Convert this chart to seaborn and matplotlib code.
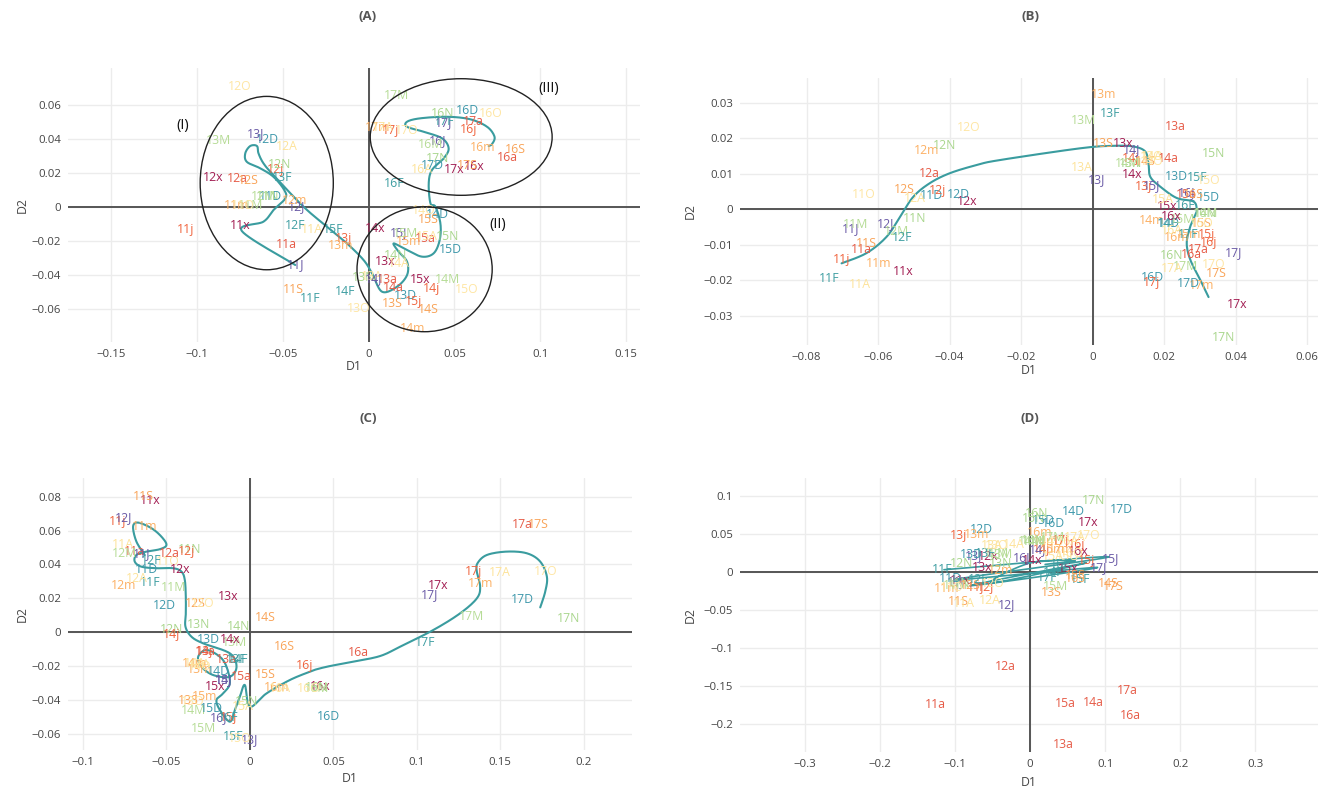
import numpy as np
import matplotlib
matplotlib.use("Agg")
import matplotlib.pyplot as plt
from matplotlib.patches import Ellipse
from matplotlib.ticker import FixedLocator, FuncFormatter
import seaborn as sns

sns.set_theme(style="white")
plt.rcParams['font.family'] = ['Open Sans', 'DejaVu Sans']

# ---- labels: year (11..17) x period code ----
years = ['11', '12', '13', '14', '15', '16', '17']
codes = ['x', 'a', 'j', 'J', 'S', 'm', 'M', 'N', 'D', 'F', 'O', 'A']
labels = [y + c for y in years for c in codes]

code_colors = {
    'x': '#a21d52', 'a': '#e65b47', 'j': '#f0653f', 'J': '#6a5aa6',
    'S': '#f9a459', 'm': '#fcb064', 'M': '#b6dc96', 'N': '#a9d68d',
    'D': '#3e98ab', 'F': '#3f9ea2', 'O': '#fee6a4', 'A': '#fde39a',
}

# ---- panel A coordinates (order follows `labels`) ----
a_x = [-0.0748, -0.048, -0.1068, -0.0427, -0.0437, -0.0767, -0.069, -0.059, -0.0573, -0.034, -0.073, -0.033,
       -0.0903, -0.0767, -0.0544, -0.0417, -0.070, -0.0432, -0.061, -0.052, -0.0592, -0.0427, -0.0748, -0.0476,
       0.0097, 0.0107, -0.0146, -0.066, 0.0136, -0.0165, -0.0874, -0.003, 0.0214, -0.0505, -0.0058, 0.002,
       0.0039, 0.0146, 0.0369, 0.0029, 0.035, 0.0253, 0.0457, 0.0156, 0.0399, -0.0136, 0.032, 0.0175,
       0.0301, 0.033, 0.0262, 0.0175, 0.035, 0.0233, 0.0214, 0.0457, 0.0476, -0.0207, 0.0573, 0.034,
       0.0612, 0.0806, 0.0583, 0.0399, 0.0855, 0.0661, 0.036, 0.0428, 0.0573, 0.0146, 0.0709, 0.031,
       0.0495, 0.0612, 0.0126, 0.0437, 0.0573, 0.005, 0.0165, 0.0399, 0.0369, 0.0437, 0.0224, 0.008]
a_y = [-0.0106, -0.0218, -0.0135, -0.0341, -0.0484, 0.0008, 0.0008, 0.006, 0.006, -0.0537, 0.001, -0.0135,
       0.0172, 0.0165, 0.0218, 0.0002, 0.0159, 0.004, 0.006, 0.0253, 0.040, -0.0106, 0.0712, 0.0355,
       -0.0322, -0.0425, -0.0184, 0.0434, -0.0566, -0.0224, 0.0394, -0.0414, -0.0518, 0.0175, -0.0596, -0.041,
       -0.0125, -0.0472, -0.0482, -0.042, -0.060, -0.0714, -0.0429, -0.0288, -0.0041, -0.0498, -0.0018, -0.0335,
       -0.0425, -0.0188, -0.0557, -0.0149, -0.0072, -0.0204, -0.0155, -0.0171, -0.0247, -0.0135, -0.0488, -0.0175,
       0.0241, 0.0292, 0.0457, 0.0394, 0.0341, 0.0351, 0.037, 0.0551, 0.057, 0.0139, 0.0551, 0.0218,
       0.0218, 0.0502, 0.0453, 0.0495, 0.0247, 0.047, 0.0659, 0.0286, 0.0243, 0.0502, 0.0453, 0.047]
a_path_x = [-0.0427, -0.0738, -0.0612, -0.0554, -0.0485, -0.0491, -0.0554, -0.0631, -0.0709, -0.0718,
            -0.0689, -0.065, -0.0641, -0.0612, -0.0554, -0.0379, -0.0242, -0.0126, -0.0029,
            0.002, 0.0078, 0.0165, 0.0224, 0.0224, 0.0175, 0.0146, 0.0224, 0.0311, 0.0379, 0.0414,
            0.0418, 0.0389, 0.036, 0.035, 0.0369, 0.0437, 0.0466, 0.0428, 0.032, 0.0224, 0.0224,
            0.0301, 0.0457, 0.0593, 0.069, 0.0733, 0.0719, 0.0699]
a_path_y = [-0.0341, -0.0141, -0.0086, -0.0018, 0.0051, 0.010, 0.0178, 0.0228, 0.0266, 0.0316,
            0.0359, 0.0359, 0.0316, 0.0257, 0.0188, 0.0002, -0.0116, -0.0214, -0.0312,
            -0.039, -0.0498, -0.0469, -0.040, -0.0322, -0.0263, -0.0214, -0.0253, -0.0292, -0.0272, -0.0194,
            -0.0096, 0.0002, 0.0022, 0.0139, 0.0218, 0.0286, 0.0345, 0.0404, 0.0443, 0.0472, 0.0502,
            0.0522, 0.0531, 0.0516, 0.0472, 0.0414, 0.0371, 0.0359]
# groups circled in panel A: centre x, centre y, width, height, tag, tag x, tag y
group_names = ['(I)', '(II)', '(III)']
group_cx = [-0.0593, 0.0326, 0.0539]
group_cy = [0.0141, -0.0366, 0.0412]
group_w = [0.0775, 0.0787, 0.1059]
group_h = [0.102, 0.0735, 0.0686]
group_tag_x = [-0.108, 0.075, 0.1048]
group_tag_y = [0.0482, -0.010, 0.070]

# ---- panel B ----
b_x = [-0.0529, -0.0646, -0.0702, -0.0678, -0.0632, -0.0599, -0.0664, -0.0497, -0.045, -0.0736, -0.0641, -0.065,
       -0.0352, -0.0456, -0.0434, -0.058, -0.0527, -0.0464, -0.0548, -0.0413, -0.0375, -0.0534, -0.0347, -0.0497,
       0.0086, 0.0231, 0.0142, 0.0012, 0.003, 0.003, -0.0026, 0.0105, 0.0235, 0.0049, 0.0166, -0.003,
       0.011, 0.0212, 0.0105, 0.011, 0.0147, 0.0166, 0.0096, 0.0315, 0.0212, 0.0212, 0.0166, 0.0166,
       0.0209, 0.0263, 0.0319, 0.0166, 0.0305, 0.0268, 0.025, 0.0338, 0.0324, 0.0291, 0.0324, 0.0197,
       0.0219, 0.0277, 0.0324, 0.0263, 0.0282, 0.0235, 0.0315, 0.0222, 0.0166, 0.0259, 0.0305, 0.0222,
       0.0403, 0.0296, 0.0166, 0.0394, 0.0347, 0.0305, 0.0259, 0.0366, 0.0268, 0.0268, 0.0338, 0.0222]
b_y = [-0.0175, -0.0112, -0.0142, -0.0053, -0.0095, -0.0152, -0.0044, -0.0025, 0.0038, -0.0196, 0.0041, -0.0211,
       0.0022, 0.0102, 0.0053, -0.0039, 0.0055, 0.0165, -0.0061, 0.018, 0.0041, -0.0078, 0.023, 0.0032,
       0.0186, 0.0233, 0.0064, 0.0085, 0.0185, 0.0323, 0.025, 0.013, 0.0092, 0.0269, 0.0149, 0.0119,
       0.0097, 0.0142, 0.0144, 0.0168, 0.0135, -0.0032, 0.013, -0.0011, -0.0039, -0.0039, 0.0135, 0.0149,
       0.0008, 0.0041, -0.007, 0.0066, -0.0041, -0.0072, -0.0028, 0.0158, 0.0034, 0.0091, 0.0081, 0.0027,
       -0.002, -0.0126, -0.0092, 0.0047, 0.0041, -0.0078, -0.0011, -0.013, -0.0191, 0.001, -0.0041, -0.006,
       -0.0269, -0.0112, -0.0205, -0.0123, -0.0182, -0.0215, -0.0161, -0.036, -0.021, -0.0072, -0.0154, -0.0166]
b_path_x = [-0.0702, -0.0632, -0.0576, -0.0538, -0.0501, -0.0455, -0.0399, -0.0324, -0.0259, -0.0035,
            0.0058, 0.0114, 0.0147, 0.0156, 0.0161, 0.0189, 0.0235, 0.0282, 0.0291, 0.0287, 0.0273,
            0.0263, 0.0273, 0.0301, 0.0324]
b_path_y = [-0.0152, -0.0123, -0.0077, -0.002, 0.0036, 0.0074, 0.0102, 0.0125, 0.0139, 0.0172,
            0.0179, 0.0177, 0.0163, 0.013, 0.0092, 0.0064, 0.0032, 0.0022, -0.0001, -0.0015, -0.0048,
            -0.0095, -0.0142, -0.0199, -0.0247]

# ---- panel C ----
c_x = [-0.060, -0.069, -0.079, -0.065, -0.064, -0.063, -0.046, -0.036, -0.062, -0.060, -0.049, -0.076,
       -0.042, -0.048, -0.038, -0.076, -0.033, -0.076, -0.075, -0.047, -0.051, -0.059, -0.028, -0.068,
       -0.013, -0.014, -0.027, 0.0, -0.037, -0.030, -0.009, -0.031, -0.025, -0.008, -0.034, -0.030,
       -0.012, -0.027, -0.047, -0.016, 0.009, -0.033, -0.034, -0.007, -0.019, -0.007, -0.030, -0.033,
       -0.021, -0.005, -0.013, -0.016, 0.009, -0.027, -0.028, -0.002, -0.023, -0.010, -0.006, -0.004,
       0.042, 0.065, 0.033, -0.019, 0.0204, 0.016, 0.040, 0.040, 0.047, -0.013, 0.035, 0.018,
       0.113, 0.163, 0.134, 0.1076, 0.173, 0.138, 0.133, 0.191, 0.163, 0.105, 0.177, 0.150]
c_y = [0.078, 0.0476, 0.0653, 0.0466, 0.080, 0.0623, 0.0265, 0.049, 0.0368, 0.0293, 0.0417, 0.0515,
       0.0373, 0.0462, 0.0476, 0.0676, 0.0167, 0.0279, 0.0462, 0.0018, 0.0161, 0.0423, 0.0171, 0.0319,
       0.0214, -0.0159, -0.0114, -0.0631, -0.0403, -0.0222, -0.0061, 0.0049, -0.0041, -0.0159, -0.041, -0.019,
       -0.0041, -0.0114, -0.001, -0.028, 0.0088, -0.0183, -0.0463, 0.0033, -0.0232, -0.0159, -0.020, -0.0183,
       -0.0317, -0.0258, -0.0501, -0.0281, -0.0246, -0.0376, -0.0566, -0.0409, -0.0448, -0.0616, -0.0625, -0.044,
       -0.0317, -0.0118, -0.0193, -0.0501, -0.0081, -0.0324, -0.033, -0.0324, -0.0494, -0.0501, -0.033, -0.033,
       0.0279, 0.0633, 0.0358, 0.022, 0.0637, 0.0285, 0.0092, 0.0083, 0.0191, -0.0059, 0.0358, 0.0352]
c_path_x = [-0.063, -0.068, -0.070, -0.067, -0.059, -0.053, -0.050, -0.054, -0.062, -0.068, -0.069, -0.065,
            -0.056, -0.046, -0.041, -0.039, -0.0384, -0.0384, -0.0386, -0.035, -0.028, -0.012, -0.008,
            -0.012, -0.022, -0.029, -0.031, -0.026, -0.018, -0.014, -0.012, -0.016, -0.020, -0.018, -0.012,
            -0.009, -0.006, -0.003, 0.0, 0.010, 0.024, 0.036, 0.040, 0.048, 0.062, 0.078, 0.090, 0.110,
            0.126, 0.136, 0.138, 0.136, 0.1364, 0.142, 0.154, 0.166, 0.174, 0.178, 0.177, 0.174]
c_path_y = [0.0456, 0.0535, 0.0623, 0.0647, 0.0614, 0.0564, 0.0515, 0.049, 0.0476, 0.0456, 0.0417, 0.0387,
            0.0378, 0.0378, 0.0358, 0.0309, 0.021, 0.0112, 0.0033, -0.0026, -0.0065, -0.0124, -0.0203,
            -0.0262, -0.0252, -0.0203, -0.0144, -0.0104, -0.0144, -0.0203, -0.0301, -0.036, -0.0399, -0.0458, -0.0527,
            -0.0458, -0.038, -0.0311, -0.0439, -0.036, -0.0281, -0.0232, -0.0218, -0.0199, -0.0173, -0.014, -0.0085, 0.0014,
            0.0112, 0.020, 0.0269, 0.0358, 0.0407, 0.0456, 0.0476, 0.0466, 0.0417, 0.0328, 0.024, 0.0147]

# ---- panel D ----
d_x = [-0.0933, -0.1267, -0.0733, -0.100, -0.0956, -0.111, -0.100, -0.095, -0.1067, -0.1178, -0.105, -0.089,
       -0.0556, -0.0333, -0.060, -0.032, -0.080, -0.040, -0.045, -0.091, -0.0644, -0.070, -0.050, -0.0533,
       -0.0644, 0.0444, -0.0956, -0.075, 0.0289, -0.071, -0.040, -0.040, -0.0778, -0.060, -0.045, -0.051,
       0.0022, 0.084, 0.0156, 0.010, 0.1044, 0.020, 0.0, 0.005, 0.0578, 0.030, 0.030, -0.0222,
       0.051, 0.0467, 0.0756, 0.1067, 0.060, 0.030, 0.0333, 0.005, 0.0178, 0.0667, 0.050, 0.030,
       0.0644, 0.1333, 0.0622, -0.011, 0.060, 0.0133, 0.0044, 0.0089, 0.031, 0.040, 0.055, 0.050,
       0.0778, 0.1293, 0.040, 0.091, 0.111, 0.040, 0.030, 0.0844, 0.122, 0.0222, 0.0778, 0.060]
d_y = [-0.0114, -0.1737, -0.0201, -0.012, -0.039, -0.0215, -0.018, -0.015, -0.0083, 0.0036, -0.020, -0.042,
       0.021, -0.1246, -0.020, -0.0434, -0.018, 0.0026, 0.024, 0.0114, 0.0562, -0.010, -0.015, -0.0377,
       0.0062, -0.2263, 0.0487, 0.022, -0.0272, 0.0496, 0.0237, 0.0114, 0.0224, 0.025, 0.035, 0.0355,
       0.0158, -0.172, 0.029, 0.030, -0.0149, 0.040, 0.040, 0.040, 0.0793, 0.0, 0.040, 0.0368,
       0.0049, -0.1728, 0.0158, 0.0171, -0.005, 0.030, -0.0184, 0.070, 0.0684, -0.0105, 0.020, 0.020,
       0.0267, -0.1882, 0.0364, 0.0193, -0.0083, 0.0518, 0.0421, 0.0772, 0.0632, 0.010, 0.025, 0.040,
       0.0649, -0.1553, 0.0421, 0.0062, -0.0193, 0.029, 0.045, 0.0938, 0.0825, -0.007, 0.0487, 0.045]
d_path_x = [-0.115, 0.105, -0.10, 0.09, -0.08, 0.075, -0.05, 0.0, 0.06, 0.02]
d_path_y = [0.003, 0.02, -0.01, 0.006, -0.018, 0.012, -0.014, 0.012, 0.015, 0.01]

panels = [
    dict(tag='(A)', x=a_x, y=a_y, px=a_path_x, py=a_path_y, lw=1.5,
         rect=(68, 68, 640, 342), xlim=(-0.175, 0.158), ylim=(-0.0794, 0.0818),
         xt=[-0.15, -0.1, -0.05, 0, 0.05, 0.1, 0.15], yt=[-0.06, -0.04, -0.02, 0, 0.02, 0.04, 0.06],
         title_xy=(368, 17), xlab_y=367, ylab_x=22),
    dict(tag='(B)', x=b_x, y=b_y, px=b_path_x, py=b_path_y, lw=1.5,
         rect=(740, 78, 1318, 345), xlim=(-0.0986, 0.063), ylim=(-0.0382, 0.037),
         xt=[-0.08, -0.06, -0.04, -0.02, 0, 0.02, 0.04, 0.06], yt=[-0.03, -0.02, -0.01, 0, 0.01, 0.02, 0.03],
         title_xy=(1030, 17), xlab_y=370, ylab_x=690),
    dict(tag='(C)', x=c_x, y=c_y, px=c_path_x, py=c_path_y, lw=1.5,
         rect=(68, 478, 632, 750), xlim=(-0.109, 0.229), ylim=(-0.0694, 0.091),
         xt=[-0.1, -0.05, 0, 0.05, 0.1, 0.15, 0.2], yt=[-0.06, -0.04, -0.02, 0, 0.02, 0.04, 0.06, 0.08],
         title_xy=(368, 418), xlab_y=778, ylab_x=22),
    dict(tag='(D)', x=d_x, y=d_y, px=d_path_x, py=d_path_y, lw=1.2,
         rect=(740, 478, 1318, 752), xlim=(-0.387, 0.384), ylim=(-0.2368, 0.1237),
         xt=[-0.3, -0.2, -0.1, 0, 0.1, 0.2, 0.3], yt=[-0.2, -0.15, -0.1, -0.05, 0, 0.05, 0.1],
         title_xy=(1030, 418), xlab_y=783, ylab_x=690),
]

W, H = 1321, 790
fig = plt.figure(figsize=(W / 100, H / 100), dpi=100)
fig.patch.set_facecolor('white')


def spline(xs, ys, n=14):
    """Uniform Catmull-Rom curve through the given vertices."""
    p = np.column_stack([xs, ys]).astype(float)
    p = np.vstack([p[0], p, p[-1]])
    out = []
    t = np.linspace(0, 1, n, endpoint=False)[:, None]
    for i in range(1, len(p) - 2):
        p0, p1, p2, p3 = p[i - 1], p[i], p[i + 1], p[i + 2]
        seg = 0.5 * ((2 * p1) + (-p0 + p2) * t + (2 * p0 - 5 * p1 + 4 * p2 - p3) * t ** 2
                     + (-p0 + 3 * p1 - 3 * p2 + p3) * t ** 3)
        out.append(seg)
    out.append(p[-2][None, :])
    s = np.vstack(out)
    return s[:, 0], s[:, 1]


def tick_fmt(v, _pos):
    if abs(v) < 1e-12:
        return '0'
    s = ('%.2f' % v).rstrip('0').rstrip('.')
    return s.replace('-', '\u2212')


tick_color = '#444444'
for P in panels:
    l, t, r, b = P['rect']
    ax = fig.add_axes([l / W, 1 - b / H, (r - l) / W, (b - t) / H])
    ax.set_facecolor('white')
    for sp in ax.spines.values():
        sp.set_visible(False)
    ax.set_xlim(*P['xlim'])
    ax.set_ylim(*P['ylim'])
    ax.xaxis.set_major_locator(FixedLocator(P['xt']))
    ax.yaxis.set_major_locator(FixedLocator(P['yt']))
    ax.xaxis.set_major_formatter(FuncFormatter(tick_fmt))
    ax.yaxis.set_major_formatter(FuncFormatter(tick_fmt))
    ax.tick_params(axis='both', length=0, labelsize=8.2, colors=tick_color, pad=5)
    ax.grid(True, color='#ececec', linewidth=1.0)
    ax.set_axisbelow(True)
    ax.axhline(0, color='#555555', lw=1.4, zorder=1)
    ax.axvline(0, color='#555555', lw=1.4, zorder=1)

    # trajectory
    sx, sy = spline(P['px'], P['py'])
    sns.lineplot(x=sx, y=sy, sort=False, estimator=None, color='#3a9c9f', lw=P['lw'], ax=ax, zorder=3)

    # season labels
    for lab, xv, yv in zip(labels, P['x'], P['y']):
        ax.text(xv, yv, lab, ha='center', va='center', fontsize=8.8, color=code_colors[lab[2:]],
                zorder=4, clip_on=True)

    if P['tag'] == '(A)':
        for nm, cx, cy, w, h, tx, ty in zip(group_names, group_cx, group_cy, group_w, group_h,
                                             group_tag_x, group_tag_y):
            ax.add_patch(Ellipse((cx, cy), w, h, fill=False, edgecolor='#222222', lw=1.0, zorder=5))
            ax.text(tx, ty, nm, ha='center', va='center', fontsize=10.5, color='#111111', zorder=6)

    ax.set_xlabel('')
    ax.set_ylabel('')
    fig.text(P['title_xy'][0] / W, 1 - P['title_xy'][1] / H, P['tag'], ha='center', va='center',
             fontsize=9.5, fontweight='bold', color='#555555')
    fig.text(((l + r) / 2) / W, 1 - P['xlab_y'] / H, 'D1', ha='center', va='center',
             fontsize=8.8, color=tick_color)
    fig.text(P['ylab_x'] / W, 1 - ((t + b) / 2) / H, 'D2', ha='center', va='center',
             fontsize=8.8, color=tick_color, rotation=90)

fig.savefig('out.png', dpi=100, facecolor='white')
